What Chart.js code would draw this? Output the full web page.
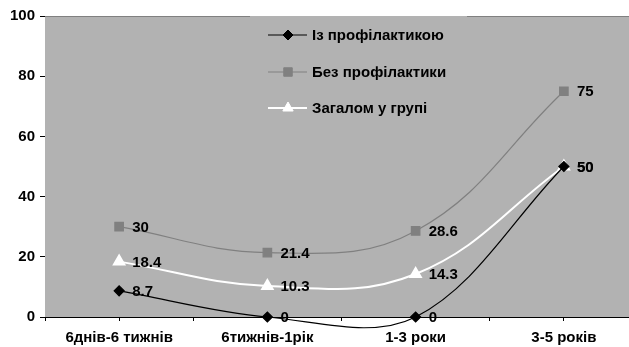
<!DOCTYPE html>
<html>
<head>
<meta charset="utf-8">
<script src="https://cdn.jsdelivr.net/npm/chart.js@4/dist/chart.umd.min.js"></script>
<style>
  html, body { margin: 0; padding: 0; background: #fff; overflow: hidden; }
  #wrap { width: 646px; height: 347px; }
</style>
</head>
<body>
<div id="wrap"><canvas id="c" width="646" height="347"></canvas></div>
<script>
// Age groups on the horizontal axis
const categories = ['6днів-6 тижнів', '6тижнів-1рік', '1-3 роки', '3-5 років'];
// Percentages per group
const withProphylaxis = [8.7, 0, 0, 50];
const withoutProphylaxis = [30, 21.4, 28.6, 75];
const wholeGroup = [18.4, 10.3, 14.3, 50];
const seriesNames = ['Із профілактикою', 'Без профілактики', 'Загалом у групі'];
const yTicks = [0, 20, 40, 60, 80, 100];

const FONT = '"Liberation Sans", Arial, sans-serif';
const PLOT_BG = '#b2b2b2';

const toPoints = arr => arr.map((v, i) => ({ x: i, y: v }));

// Grey plot background plus its top edge, broken where the legend box sits
const plotBackground = {
  id: 'plotBackground',
  beforeDatasetsDraw(chart) {
    const { ctx, chartArea: a } = chart;
    ctx.save();
    ctx.fillStyle = PLOT_BG;
    ctx.fillRect(a.left, a.top, a.right - a.left, a.bottom - a.top);
    ctx.strokeStyle = '#808080';
    ctx.lineWidth = 1;
    ctx.beginPath();
    ctx.moveTo(a.left, a.top + 0.5);
    ctx.lineTo(250, a.top + 0.5);
    ctx.moveTo(467, a.top + 0.5);
    ctx.lineTo(a.right, a.top + 0.5);
    ctx.stroke();
    ctx.restore();
  }
};

// Value labels to the right of each marker
const valueLabels = {
  id: 'valueLabels',
  afterDatasetsDraw(chart) {
    const { ctx } = chart;
    ctx.save();
    ctx.font = 'bold 15px ' + FONT;
    ctx.fillStyle = '#000';
    ctx.textAlign = 'left';
    ctx.textBaseline = 'middle';
    chart.data.datasets.forEach((ds, di) => {
      const meta = chart.getDatasetMeta(di);
      meta.data.forEach((el, i) => {
        ctx.fillText(String(ds.data[i].y), el.x + 13, el.y + 1);
      });
    });
    ctx.restore();
  }
};

// Legend drawn inside the plot area
const innerLegend = {
  id: 'innerLegend',
  afterDraw(chart) {
    const { ctx } = chart;
    const rows = [35, 72, 108];
    ctx.save();
    chart.data.datasets.forEach((ds, di) => {
      const y = rows[di];
      ctx.strokeStyle = ds.borderColor;
      ctx.lineWidth = ds.borderWidth;
      ctx.beginPath();
      ctx.moveTo(268, y);
      ctx.lineTo(307, y);
      ctx.stroke();
      ctx.fillStyle = ds.pointBackgroundColor;
      ctx.strokeStyle = ds.pointBorderColor;
      ctx.lineWidth = 1;
      Chart.helpers.drawPoint(ctx, {
        pointStyle: ds.pointStyle,
        radius: ds.pointRadius,
        borderWidth: 1,
        rotation: 0
      }, 288, y);
      ctx.fillStyle = '#000';
      ctx.font = 'bold 15px ' + FONT;
      ctx.textAlign = 'left';
      ctx.textBaseline = 'middle';
      ctx.fillText(ds.label, 312, y + 1);
    });
    ctx.restore();
  }
};

new Chart(document.getElementById('c'), {
  type: 'line',
  data: {
    datasets: [
      {
        label: seriesNames[0],
        data: toPoints(withProphylaxis),
        borderColor: '#000',
        borderWidth: 1.2,
        pointStyle: 'rectRot',
        pointRadius: 5,
        pointBackgroundColor: '#000',
        pointBorderColor: '#000',
        tension: 0.35,
        capBezierPoints: false,
        clip: false
      },
      {
        label: seriesNames[1],
        data: toPoints(withoutProphylaxis),
        borderColor: '#808080',
        borderWidth: 1.2,
        pointStyle: 'rect',
        pointRadius: 6,
        pointBackgroundColor: '#808080',
        pointBorderColor: '#808080',
        tension: 0.4,
        capBezierPoints: false
      },
      {
        label: seriesNames[2],
        data: toPoints(wholeGroup),
        borderColor: '#ffffff',
        borderWidth: 2,
        pointStyle: 'triangle',
        pointRadius: 6,
        pointBackgroundColor: '#ffffff',
        pointBorderColor: '#ffffff',
        tension: 0.4,
        capBezierPoints: false
      }
    ]
  },
  options: {
    responsive: false,
    animation: false,
    events: [],
    layout: { padding: { top: 16, right: 3, left: 0, bottom: 0 } },
    plugins: { legend: { display: false }, tooltip: { enabled: false } },
    scales: {
      x: {
        type: 'linear',
        min: -0.5,
        max: 3.5,
        afterBuildTicks(scale) {
          const t = [];
          for (let v = -0.5; v <= 3.5; v += 0.5) t.push({ value: v });
          scale.ticks = t;
        },
        afterFit(scale) {
          scale.height = 30;
          scale.paddingLeft = 0;
          scale.paddingRight = 0;
        },
        grid: { display: true, drawOnChartArea: false, drawTicks: true, tickLength: 4, color: '#000' },
        border: { display: true, color: '#000', width: 1 },
        ticks: {
          autoSkip: false,
          maxRotation: 0,
          padding: 8,
          color: '#000',
          font: { family: FONT, size: 15, weight: 'bold' },
          callback: v => Number.isInteger(v) ? categories[v] : ''
        }
      },
      y: {
        min: 0,
        max: 100,
        afterBuildTicks(scale) { scale.ticks = yTicks.map(v => ({ value: v })); },
        afterFit(scale) {
          scale.width = 45;
          scale.paddingTop = 0;
          scale.paddingBottom = 0;
        },
        grid: { display: true, drawOnChartArea: false, drawTicks: true, tickLength: 5, color: '#000' },
        border: { display: true, color: '#000', width: 1 },
        ticks: {
          padding: 5,
          color: '#000',
          font: { family: FONT, size: 15, weight: 'bold' }
        }
      }
    }
  },
  plugins: [plotBackground, valueLabels, innerLegend]
});
</script>
</body>
</html>
